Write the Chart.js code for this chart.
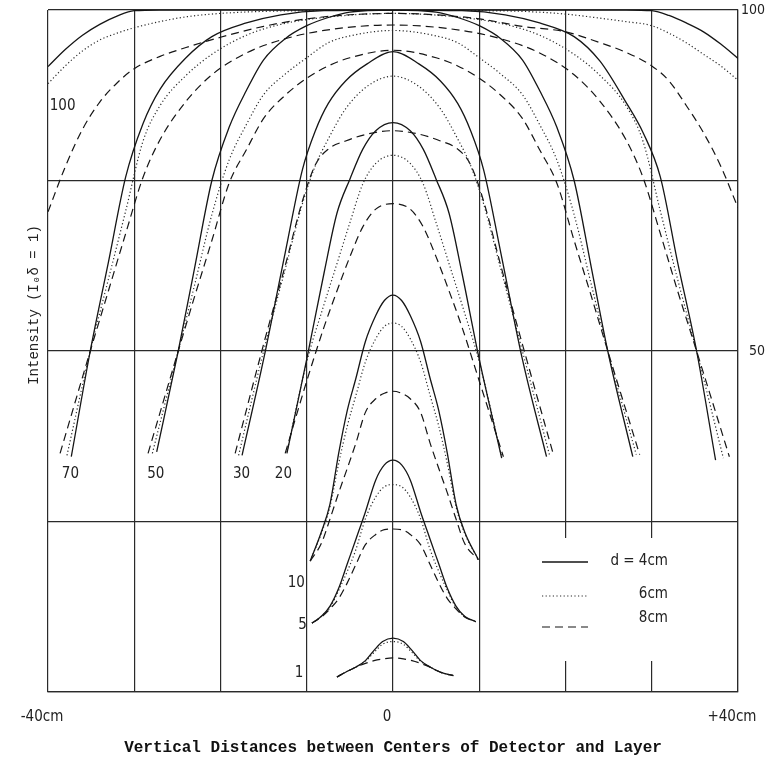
<!DOCTYPE html>
<html lang="en">
<head>
  <meta charset="UTF-8" />
  <title>Intensity vs vertical distance</title>
  <script src="https://cdn.jsdelivr.net/npm/chart.js"></script>
  <style>
    html, body { margin: 0; padding: 0; background: #fff; }
    #chart { display: block; }
  </style>
</head>
<body>
  <canvas id="chart" width="774" height="762"></canvas>

  <script>
    // x = vertical distance (cm), y = intensity; one family per layer thickness
    // d4 = solid, d6 = dotted, d8 = dashed (null = no point there)
    const xs100 = [-40, -38, -36, -34, -32, -30, -27, -24, -20, -15, -10, -5, 0, 5, 10, 15, 20, 24, 27, 30, 32, 34, 36, 38, 40];
    const t100_d4 = [91.7, 94.2, 96.3, 97.9, 99.1, 99.9, 100, 100, 100, 100, 100, 100, 100, 100, 100, 100, 100, 100, 100, 99.9, 99.2, 98.1, 96.8, 95.0, 92.9];
    const t100_d6 = [89.2, 91.8, 94.0, 95.6, 96.6, 97.4, 98.3, 99.0, 99.5, 99.8, 99.9, 100, 100, 100, 99.9, 99.8, 99.4, 98.8, 98.3, 97.7, 96.6, 95.2, 93.5, 91.8, 89.7];
    const t100_d8 = [70.4, 77.0, 82.5, 86.5, 89.3, 91.4, 93.2, 94.5, 96.0, 97.6, 98.7, 99.3, 99.5, 99.3, 98.7, 97.6, 96.8, 95.2, 93.8, 91.8, 89.6, 86.0, 82.0, 77.1, 71.0];

    const xs70 = [-38.6, -37.8, -37.3, -35.1, -33, -31, -29, -27, -24, -21, -17, -13, -8, 0, 8, 13, 17, 21, 24, 27, 29, 31, 33, 35.2, 37.4, 38.3, 39.0];
    const t70_d4 = [null, null, 34.5, 50, 63, 75.5, 83.3, 88.4, 93.0, 96.1, 98.1, 99.3, 99.9, 100, 99.9, 99.3, 98.1, 96.1, 92.5, 86.5, 82, 75.5, 63, 50, 34, null, null];
    const t70_d6 = [null, 34.7, null, 50, 60.5, 70.5, 80.7, 86.0, 90.4, 93.5, 96.3, 97.9, 98.9, 99.5, 98.9, 97.9, 96.3, 93.5, 90.4, 86.0, 80.7, 70.5, 60.5, 50, null, 34.3, null];
    const t70_d8 = [35, null, null, 50, 58.8, 67.2, 75.4, 81, 86.6, 90.5, 93.7, 95.6, 97, 97.8, 97, 95.6, 93.7, 90.5, 86.6, 81, 75.4, 67.2, 58.8, 50, null, null, 34.5];

    const xs50 = [-28.4, -27.9, -27.4, -24.9, -23, -21, -19, -17, -15, -12.5, -10, -7.5, -5, 0, 5, 7.5, 10, 12.5, 15, 17, 19, 21, 23, 24.9, 27.8, 28.2, 28.6];
    const t50_d4 = [null, null, 35.2, 50, 62.2, 75, 82.8, 88.2, 92.7, 95.8, 97.7, 98.9, 99.7, 100, 99.7, 98.9, 97.7, 95.8, 92.7, 88.2, 82.8, 75, 62.2, 50, 34.5, null, null];
    const t50_d6 = [null, 35, null, 50, 59.7, 70, 78, 83.2, 87.6, 90.6, 93, 95.2, 96.2, 97, 96.2, 95.2, 93, 90.6, 87.6, 83.2, 78, 70, 59.7, 50, null, 34.8, null];
    const t50_d8 = [35, null, null, 50, 58, 66.2, 74.6, 79.5, 84.1, 87.5, 90, 91.8, 93, 94.1, 93, 91.8, 90, 87.5, 84.1, 79.5, 74.6, 66.2, 58, 50, null, null, 34.8];

    const xs30 = [-18.3, -17.9, -17.5, -15, -12.5, -10.5, -9, -7.5, -5.5, -3, 0, 3, 5.5, 7.5, 9, 10.5, 12.5, 15, 17.8, 18.2, 18.6];
    const t30_d4 = [null, null, 34.7, 48.8, 64.4, 76.6, 82.3, 86.3, 89.6, 92.1, 93.9, 92.1, 89.6, 86.3, 82.3, 76.6, 64.4, 48.8, 34.5, null, null];
    const t30_d6 = [null, 34.7, null, 50, 62, 71.6, 77.2, 81.1, 85.5, 88.8, 90.3, 88.8, 85.5, 81.1, 77.2, 71.6, 62, 50, null, 34.5, null];
    const t30_d8 = [35, null, null, 51, 62.5, 72, 77.3, 79.6, 80.8, 81.8, 82.3, 81.8, 80.8, 79.6, 77.3, 72, 62.5, 51, null, null, 34.8];

    const xs20 = [-12.5, -12.3, -10, -8, -6.5, -5, -3.5, -2, 0, 2, 3.5, 5, 6.5, 8, 10, 12.6, 12.8];
    const t20_d4 = [null, 35, 48.8, 61.4, 70.2, 75.2, 79.6, 82.3, 83.5, 82.3, 79.6, 75.2, 70.2, 61.4, 48.8, 34.3, null];
    const t20_d6 = [null, 35.2, 48.4, 56.8, 62.8, 68.8, 74.5, 77.5, 78.7, 77.5, 74.5, 68.8, 62.8, 56.8, 48.4, 34.5, null];
    const t20_d8 = [35, null, 45.6, 53.5, 58.8, 63.8, 68.2, 70.8, 71.6, 70.8, 68.2, 63.8, 58.8, 53.5, 45.6, null, 34.5];

    const xs10 = [-9.6, -8.3, -7.3, -6.3, -5.3, -4.3, -3.2, -2, -1, 0, 1, 2, 3.2, 4.3, 5.3, 6.3, 7.3, 8.3, 9.9];
    const t10_d4 = [19.2, 23.5, 27.6, 35, 41.3, 46, 51.4, 55.2, 57.4, 58.2, 57.4, 55.2, 51.4, 46, 41.3, 35, 27.6, 23.5, 19.4];
    const t10_d6 = [19.2, 23.3, 27.2, 33.5, 39, 43.5, 48.4, 51.8, 53.6, 54.1, 53.6, 51.8, 48.4, 43.5, 39, 33.5, 27.2, 23.3, 19.4];
    const t10_d8 = [19.2, 21.8, 25.4, 29.2, 32.8, 36.5, 41, 43, 43.8, 44.1, 43.8, 43, 41, 36.5, 32.8, 29.2, 25.4, 21.8, 19.4];

    const xs5 = [-9.4, -8.3, -7.3, -6.3, -5.3, -4.3, -3.2, -2, -1, 0, 1, 2, 3.2, 4.3, 5.3, 6.3, 7.3, 8.3, 9.6];
    const t5_d4 = [10.1, 11.1, 12.6, 15.2, 18.8, 22.4, 26.4, 31.1, 33.3, 34, 33.3, 31.1, 26.4, 22.4, 18.8, 15.2, 12.6, 11.1, 10.3];
    const t5_d6 = [10.1, 11.1, 12.4, 14.9, 17.7, 20.9, 25.4, 28.6, 30.1, 30.4, 30.1, 28.6, 25.4, 20.9, 17.7, 14.9, 12.4, 11.1, 10.3];
    const t5_d8 = [10.1, 11.0, 12.2, 13.7, 16.0, 18.7, 21.6, 23.1, 23.8, 23.9, 23.8, 23.1, 21.6, 18.7, 16.0, 13.7, 12.2, 11.0, 10.3];

    const xs1 = [-6.5, -5.5, -4.4, -3.2, -2.2, -1.2, 0, 1.2, 2.2, 3.2, 4.4, 5.5, 7.0];
    const t1_d4 = [2.2, 2.9, 3.6, 4.6, 6.1, 7.4, 7.9, 7.4, 6.1, 4.6, 3.6, 2.9, 2.4];
    const t1_d6 = [2.2, 2.9, 3.6, 4.5, 5.8, 7.0, 7.4, 7.0, 5.8, 4.5, 3.6, 2.9, 2.4];
    const t1_d8 = [2.2, 2.9, 3.6, 4.2, 4.6, 4.85, 5.0, 4.85, 4.6, 4.2, 3.6, 2.9, 2.4];

    // curve tags (thickness) and where they sit, in data units
    const tagText = ['100', '70', '50', '30', '20', '10', '5', '1'];
    const tagX = [-39.8, -38.4, -28.5, -18.55, -13.7, -12.2, -11.0, -11.4];
    const tagY = [85.9, 32, 32, 32, 32, 15.9, 9.8, 2.7];

    const legendText = ['d = 4cm', '6cm', '8cm'];

    const families = [
      { xs: xs100, d4: t100_d4, d6: t100_d6, d8: t100_d8 },
      { xs: xs70, d4: t70_d4, d6: t70_d6, d8: t70_d8 },
      { xs: xs50, d4: t50_d4, d6: t50_d6, d8: t50_d8 },
      { xs: xs30, d4: t30_d4, d6: t30_d6, d8: t30_d8 },
      { xs: xs20, d4: t20_d4, d6: t20_d6, d8: t20_d8 },
      { xs: xs10, d4: t10_d4, d6: t10_d6, d8: t10_d8 },
      { xs: xs5, d4: t5_d4, d6: t5_d6, d8: t5_d8 },
      { xs: xs1, d4: t1_d4, d6: t1_d6, d8: t1_d8 }
    ];

    const lineStyle = {
      d4: { color: "#151515", width: 1.3, dash: [] },
      d6: { color: "#2a2a2a", width: 1.2, dash: [1.2, 2.4] },
      d8: { color: "#151515", width: 1.2, dash: [8, 5] }
    };

    const narrow = '"Liberation Sans Narrow", "DejaVu Sans Condensed", "Liberation Sans", sans-serif';
    const mono = '"Liberation Mono", "DejaVu Sans Mono", monospace';

    function toPoints(xs, ys) {
      const pts = [];
      xs.forEach((x, i) => { if (ys[i] !== null) pts.push({ x: x, y: ys[i] }); });
      return pts;
    }

    const datasets = [];
    families.forEach((f, k) => {
      ["d4", "d6", "d8"].forEach(d => {
        const st = lineStyle[d];
        datasets.push({
          label: tagText[k] + " " + d,
          data: toPoints(f.xs, f[d]),
          borderColor: st.color,
          borderWidth: st.width,
          borderDash: st.dash,
          pointRadius: 0,
          fill: false,
          cubicInterpolationMode: "monotone"
        });
      });
    });

    // white legend box, legend keys and the thickness tags
    const notes = {
      id: "notes",
      afterDatasetsDraw(chart) {
        const ctx = chart.ctx;
        const xS = chart.scales.x, yS = chart.scales.y;
        ctx.save();
        ctx.fillStyle = "#fff";
        ctx.fillRect(528, 538, 180, 123);

        const keyY = [562, 596, 627];
        const textY = [561, 594, 618];
        ["d4", "d6", "d8"].forEach((d, i) => {
          const st = lineStyle[d];
          ctx.beginPath();
          ctx.setLineDash(st.dash);
          ctx.strokeStyle = st.color;
          ctx.lineWidth = st.width;
          ctx.moveTo(542, keyY[i]);
          ctx.lineTo(588, keyY[i]);
          ctx.stroke();
          ctx.setLineDash([]);
          ctx.fillStyle = "#222";
          ctx.font = "15px " + narrow;
          ctx.textAlign = "right";
          ctx.textBaseline = "middle";
          ctx.fillText(legendText[i], 668, textY[i]);
        });

        ctx.fillStyle = "#222";
        ctx.font = "15px " + narrow;
        ctx.textAlign = "left";
        ctx.textBaseline = "middle";
        tagText.forEach((t, i) => {
          ctx.fillText(t, xS.getPixelForValue(tagX[i]), yS.getPixelForValue(tagY[i]));
        });
        ctx.restore();
      },
      afterDraw(chart) {
        const ctx = chart.ctx;
        ctx.save();
        ctx.translate(34, 305);
        ctx.rotate(-Math.PI / 2);
        ctx.fillStyle = "#222";
        ctx.font = "14px " + mono;
        ctx.textAlign = "center";
        ctx.textBaseline = "middle";
        ctx.fillText("Intensity (I\u2080\u03b4 = 1)", 0, 0);
        ctx.restore();
      }
    };

    const ctx = document.getElementById("chart").getContext("2d");
    new Chart(ctx, {
      type: "line",
      data: { datasets: datasets },
      plugins: [notes],
      options: {
        responsive: false,
        animation: false,
        events: [],
        layout: { padding: { left: 48, top: 10, right: 9, bottom: 0 } },
        plugins: { legend: { display: false }, tooltip: { enabled: false } },
        scales: {
          x: {
            type: "linear",
            min: -40,
            max: 40,
            afterFit: s => { s.height = 70; },
            grid: { color: "#2a2a2a", lineWidth: 1.2, drawTicks: true, tickLength: 15, tickColor: "rgba(0,0,0,0)" },
            border: { color: "#2a2a2a", width: 1.2 },
            ticks: {
              stepSize: 10,
              autoSkip: false,
              maxRotation: 0,
              padding: 1,
              labelOffset: -6,
              color: "#222",
              font: { family: narrow, size: 15 },
              callback: v => v === -40 ? "-40cm" : v === 0 ? "0" : v === 40 ? "+40cm" : ""
            },
            title: {
              display: true,
              text: "Vertical Distances between Centers of Detector and Layer",
              color: "#111",
              font: { family: mono, size: 16, weight: "bold" },
              padding: { top: 0, bottom: 4 }
            }
          },
          y: {
            position: "right",
            min: 0,
            max: 100,
            afterFit: s => { s.width = 27; },
            grid: { color: "#2a2a2a", lineWidth: 1.2, drawTicks: false },
            border: { color: "#2a2a2a", width: 1.2 },
            ticks: {
              stepSize: 25,
              autoSkip: false,
              padding: 0,
              crossAlign: "far",
              color: "#222",
              font: { family: narrow, size: 14, lineHeight: 1 },
              callback: v => (v === 100 || v === 50) ? String(v) : ""
            }
          }
        }
      }
    });
  </script>
</body>
</html>
